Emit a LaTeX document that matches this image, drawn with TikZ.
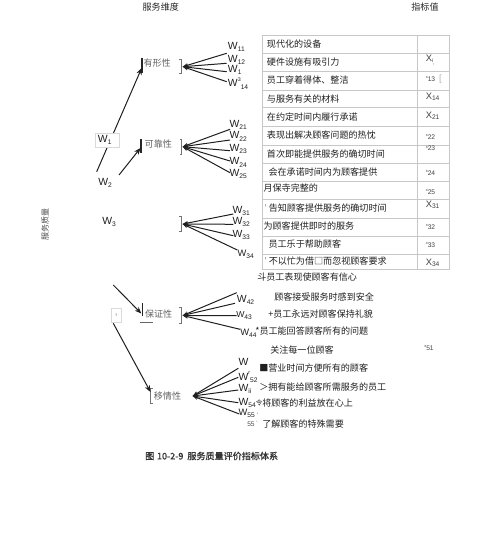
\documentclass[tikz,border=0pt]{standalone}
\usepackage{fontspec}
\setmainfont{Liberation Sans}
\setsansfont{Liberation Sans}
\newfontfamily\cjk{Noto Sans CJK SC}
\newfontfamily\cjkb[FakeBold=1.2]{Noto Sans CJK SC}
\usetikzlibrary{arrows.meta}
\newcommand{\Wl}[1]{W\raisebox{-1.6pt}{\fontsize{5}{5}\selectfont #1}}
\newcommand{\Wst}[2]{W\raisebox{4.2pt}{\fontsize{4}{4}\selectfont #1}\raisebox{-1.6pt}{\fontsize{5}{5}\selectfont #2}}
\newcommand{\xs}[1]{\raisebox{2.2pt}{\fontsize{3}{3}\selectfont x}{\fontsize{5}{5}\selectfont #1}}
\newcommand{\xb}[1]{X{\fontsize{5}{5}\selectfont\raisebox{-0.6pt}{#1}}}
\begin{document}
\begin{tikzpicture}[x=0.75pt,y=-0.75pt,
  cj/.style={font=\cjk\fontsize{6.8}{8}\selectfont, inner sep=0pt, anchor=west, text=black!88},
  cat/.style={font=\cjk\fontsize{6.8}{8}\selectfont, inner sep=0pt, text=black!62},
  wl/.style={font=\fontsize{7.8}{9}\selectfont, inner sep=0pt, anchor=base west, text=black!88},
  val/.style={font=\fontsize{7}{8}\selectfont, inner sep=0pt, anchor=west, text=black!75},
  tline/.style={draw=black!22, line width=0.6pt},
  arr/.style={draw=black!88, line width=0.75pt, -{Stealth[length=5pt,width=4pt]}},
  fan/.style={draw=black!88, line width=0.75pt, {Stealth[length=4pt,width=3pt]}-},
  bar/.style={draw=black!85, line width=1.2pt},
  rbr/.style={draw=black!55, line width=0.5pt},
]
\useasboundingbox (0,0) rectangle (500,552);

% headers
\node[cat, text=black!85] (h1) at (160.8,6.7) {服务维度};
\node[cat, text=black!85] (h2) at (425,7.3) {指标值};

% table
\draw[tline] (262.7,35) rectangle (449.3,269);
\draw[tline] (417.3,35) -- (417.3,269);
\foreach \y in {53.3,71,90,107.7,126.7,145,163,181.7,199,218,236,254}
  \draw[tline] (262.7,\y) -- (449.3,\y);

\node[cj] (r1) at (266.7,44) {现代化的设备};
\node[cj] (r2) at (266.7,62) {硬件设施有吸引力};
\node[cj] (r3) at (266.7,80.5) {员工穿着得体、整洁};
\node[cj] (r4) at (266.7,99) {与服务有关的材料};
\node[cj] (r5) at (266.7,117) {在约定时间内履行承诺};
\node[cj] (r6) at (266.7,135.3) {表现出解决顾客问题的热忱};
\node[cj] (r7) at (266.7,154) {首次即能提供服务的确切时间};
\node[cj] (r8) at (268.3,172.3) {会在承诺时间内为顾客提供};
\node[cj] (r9) at (263.3,188) {月保寺完整的};
\node[cj] (r10) at (264,208) {\textcolor{black!40}{'}\hspace{1.5pt}告知顾客提供服务的确切时间};
\node[cj] (r11) at (263.3,226.5) {为顾客提供即时的服务};
\node[cj] (r12) at (268.3,244) {员工乐于帮助顾客};
\node[cj] (r13) at (264,261.5) {\textcolor{black!40}{'}\hspace{1.5pt}不以忙为借□而忽视顾客要求};

\node[val] (v2) at (425.5,60) {X\raisebox{-1pt}{\fontsize{4}{4}\selectfont i\raisebox{-1pt}{,}}};
\node[val] (v3) at (425.5,79) {\xs{13}\hspace{3pt}\textcolor{black!30}{\fontsize{7}{7}\selectfont [}};
\node[val] (v4) at (425.5,97) {\xb{14}};
\node[val] (v5) at (425.5,115.5) {\xb{21}};
\node[val] (v6) at (425.5,137) {\xs{22}};
\node[val] (v7) at (425.5,148.5) {\xs{23}};
\node[val] (v8) at (425.5,173.3) {\xs{24}};
\node[val] (v9) at (425.5,191.7) {\xs{25}};
\node[val] (v10) at (425.5,204.5) {\xb{31}};
\node[val] (v11) at (425.5,226.7) {\xs{32}};
\node[val] (v12) at (425.5,245) {\xs{33}};
\node[val] (v13) at (425.5,263) {\xb{34}};

% texts below the table
\node[cj] (b1) at (257,277) {斗员工表现使顾客有信心};
\node[cj] (b2) at (274,297) {顾客接受服务时感到安全};
\node[cj] (b3) at (268,314) {+员工永远对顾客保持礼貌};
\node[cj] (b4) at (255,331.5) {*员工能回答顾客所有的问题};
\node[cj] (b5) at (270,350) {关注每一位顾客};
\node[val] (v51) at (424,348) {\xs{51}};
\node[cj] (b6) at (259,368) {■营业时间方便所有的顾客};
\node[cj] (b7) at (259,387.5) {＞拥有能给顾客所需服务的员工};
\node[cj] (b8) at (262,403.5) {将顾客的利益放在心上};
\node[cj] (b9) at (262,424) {了解顾客的特殊需要};

% vertical label
\node[cat, text=black!70, font=\cjk\fontsize{6}{7}\selectfont, rotate=90] (vl) at (45,224) {服务质量};

% caption
\node[font=\cjkb\fontsize{6.8}{8}\selectfont, text=black!80, inner sep=0pt, anchor=west] (cap) at (145,456) {图\hspace{2pt}10-2-9\hspace{3pt}服务质量评价指标体系};

% category labels
\node[cat] (yx) at (157.2,63.3) {有形性};
\node[cat] (kk) at (158.3,144.3) {可靠性};
\node[cat] (bz) at (158.6,313.7) {保证性};
\node[cat] (yq) at (167.5,395.7) {移情性};

% brackets
\draw[bar] (141.7,58.3) -- (141.7,72.7);
\draw[rbr] (179,59.3) -- (181,59.3) -- (181,73.3) -- (179,73.3);
\draw[bar] (141,139.3) -- (141,153.3);
\draw[rbr] (179.5,139) -- (181.5,139) -- (181.5,154) -- (179.5,154);
\draw[rbr] (179,216) -- (181,216) -- (181,231) -- (179,231);
\draw[bar] (142.3,303) -- (142.3,315.5);
\draw[draw=black!60, line width=0.6pt] (140,322.3) -- (153.3,322.3);
\draw[rbr] (179,307.7) -- (181,307.7) -- (181,323.3) -- (179,323.3);
\draw[rbr] (152.5,388) -- (150.7,388) -- (150.7,403.3) -- (152.5,403.3);

% main tree arrows
\coordinate (s1) at (96.7,171.7);
\coordinate (t1) at (141.7,68);
\draw[arr] (s1) -- (t1);
\node[wl, anchor=west, fill=white, draw=black!15, line width=0.4pt, inner xsep=2pt, text width=14pt, minimum height=10.5pt, align=left] (W1) at (95,140) {\Wl{1}};
\node[wl] (W2) at (98,185.5) {\Wl{2}};
\node[wl] (W3) at (102,224) {\Wl{3}};
\coordinate (s2) at (119,175);
\coordinate (t2) at (140.5,148);
\draw[arr] (s2) -- (t2);

\coordinate (s4) at (113.3,285);
\coordinate (t4) at (141.3,313.5);
\draw[arr] (s4) -- (t4);
\node[draw=black!15, line width=0.4pt, minimum width=8pt, minimum height=10.5pt, inner sep=0pt, font=\fontsize{4}{4}\selectfont, text=black!60] (sb) at (116.3,315.3) {ι};
\coordinate (s5) at (113.3,323.3);
\coordinate (t5) at (150.5,392);
\draw[arr] (s5) -- (t5);

% fans
\coordinate (a1) at (182.7,66.7);
\coordinate (a2) at (182.7,146.7);
\coordinate (a3) at (182.7,224);
\coordinate (a4) at (182.7,315.5);
\coordinate (a5) at (192.7,396);

\coordinate (e11) at (226.7,53.3);
\coordinate (e12) at (226.7,63.3);
\coordinate (e13) at (226.7,71.7);
\coordinate (e14) at (226.7,81.7);
\foreach \e in {e11,e12,e13,e14} \draw[fan] (a1) -- (\e);

\coordinate (e21) at (230,129.3);
\coordinate (e22) at (230,140);
\coordinate (e23) at (230,150.7);
\coordinate (e24) at (230,161);
\coordinate (e25) at (230,172.7);
\foreach \e in {e21,e22,e23,e24,e25} \draw[fan] (a2) -- (\e);

\coordinate (e31) at (233.3,214);
\coordinate (e32) at (233.3,224.3);
\coordinate (e33) at (233.3,235.7);
\coordinate (e34) at (237.3,250);
\foreach \e in {e31,e32,e33,e34} \draw[fan] (a3) -- (\e);

\coordinate (e42) at (236.7,292.7);
\coordinate (e43) at (235,303.3);
\coordinate (e44) at (236.7,315.7);
\coordinate (e45) at (240,329.3);
\foreach \e in {e42,e43,e44,e45} \draw[fan] (a4) -- (\e);

\coordinate (e51) at (238.3,368.3);
\coordinate (e52) at (238.3,377.3);
\coordinate (e53) at (238.3,390);
\coordinate (e54) at (238.3,402.7);
\coordinate (e55) at (239.3,414);
\foreach \e in {e51,e52,e53,e54,e55} \draw[fan] (a5) -- (\e);

% W labels
\node[wl] (w11) at (227.7,49.3) {\Wl{11}};
\node[wl] (w12) at (227.7,62.7) {\Wl{12}};
\node[wl] (w13) at (227.7,72.5) {\Wl{1}};
\node[wl] (w14) at (227.7,87) {\Wst{3}{14}};

\node[wl] (w21) at (229.3,127.3) {\Wl{21}};
\node[wl] (w22) at (229.3,139) {\Wl{22}};
\node[wl] (w23) at (229.3,151.7) {\Wl{23}};
\node[wl] (w24) at (229.3,165) {\Wl{24}};
\node[wl] (w25) at (229.3,176.7) {\Wl{25}};

\node[wl] (w31) at (232.3,213.3) {\Wl{31}};
\node[wl] (w32) at (232.3,224.7) {\Wl{32}};
\node[wl] (w33) at (232.3,237.3) {\Wl{33}};
\node[wl, font=\fontsize{7}{8}\selectfont] (w34) at (237.3,256) {\Wl{34}};

\node[wl] (w42) at (236.7,302) {\Wl{42}};
\node[wl, font=\fontsize{6.5}{8}\selectfont] (w43) at (236,317) {\Wl{43}};
\node[wl, font=\fontsize{7}{8}\selectfont] (w44) at (240,335) {\Wl{44}};

\node[wl] (w51) at (238.3,365) {W};
\node[wl] (w52) at (238.3,380) {\Wst{r}{52}};
\node[wl] (w53) at (238.3,391) {\Wl{ii}};
\node[wl] (w54) at (238.3,405.5) {\Wl{54}{\cjk\fontsize{5}{5}\selectfont 令}};
\node[wl, font=\fontsize{7}{8}\selectfont] (w55) at (238.3,415) {\Wl{55}\,{\fontsize{5}{5}\selectfont ·}};
\node[wl, font=\fontsize{5}{6}\selectfont, text=black!70] (w56) at (247,426) {55\,\raisebox{2pt}{·}};
\end{tikzpicture}
\end{document}
